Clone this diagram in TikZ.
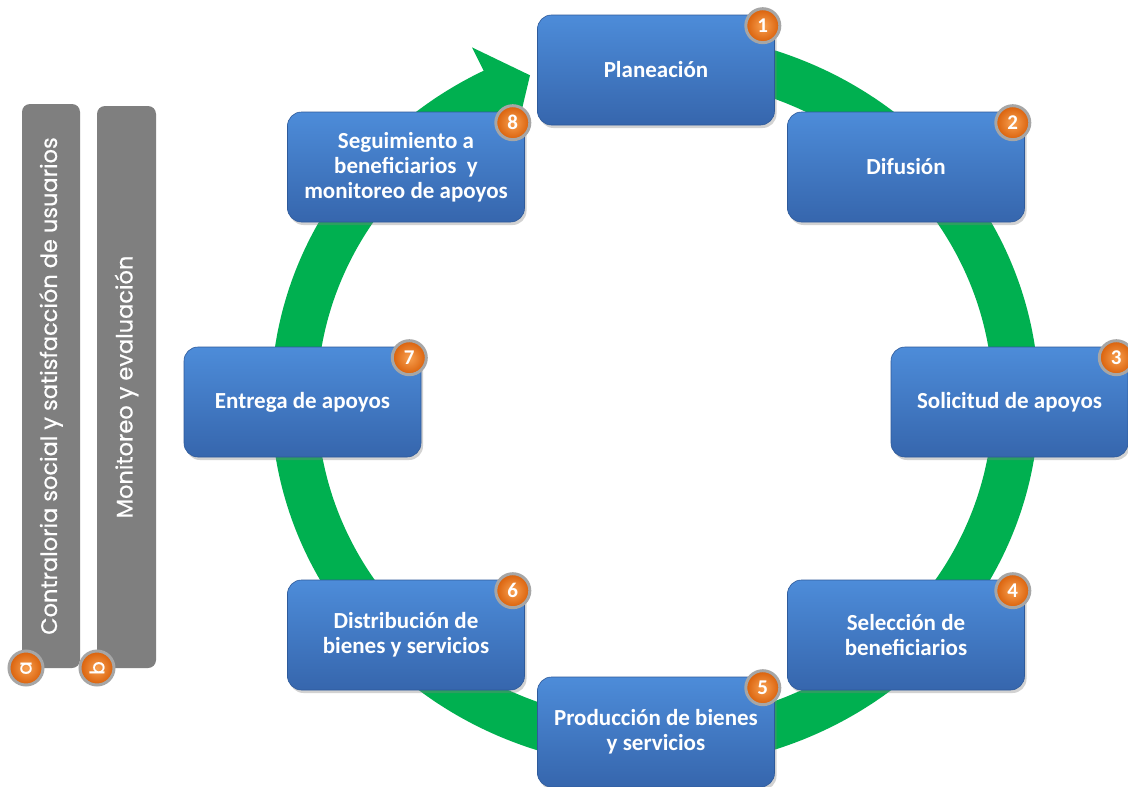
\documentclass[tikz,border=0pt]{standalone}
\usepackage{fontspec}
\setmainfont{Carlito}
\newfontfamily\barfont{Poppins}[FakeBold=0.6]
\usetikzlibrary{shadows,calc}
\definecolor{ringgreen}{HTML}{00B050}
\definecolor{boxtop}{HTML}{4D8CD9}
\definecolor{boxbot}{HTML}{3666AD}
\definecolor{boxline}{HTML}{2E5A9A}
\definecolor{bargrey}{HTML}{7F7F7F}
\definecolor{badgein}{HTML}{F8A050}
\definecolor{badgeout}{HTML}{D9600A}
\definecolor{badgering}{HTML}{A6A6A6}
\begin{document}
\begin{tikzpicture}[x=1pt,y=-1pt,
  stage/.style={rounded corners=14pt, top color=boxtop, bottom color=boxbot,
    draw=boxline, line width=0.6pt, minimum width=237pt, minimum height=110pt,
    inner sep=0pt, align=center, text=white,
    font=\fontsize{23}{25}\selectfont\bfseries,
    drop shadow={shadow xshift=2pt, shadow yshift=-3pt, opacity=0.35}},
  badge/.style={circle, inner color=badgein, outer color=badgeout,
    draw=badgering, line width=3pt, minimum size=34pt, inner sep=0pt,
    text=white, font=\fontsize{21}{21}\selectfont\bfseries},
  bar/.style={fill=bargrey, rounded corners=8pt, inner sep=0pt, text=white,
    font=\barfont\fontsize{22.5}{26}\selectfont}]
\useasboundingbox (0,0) rectangle (1128,787);
\fill[white] (0,0) rectangle (1128,787);

% ring arrow
\draw[ringgreen, line width=46pt] plot[domain=-90:244, samples=150, smooth]
  ({655+361*cos(\x)},{400+345*sin(\x)});
\fill[ringgreen] ({655+410*cos(243.5)},{400+394*sin(243.5)})
  -- ({655+362*cos(249.8)},{400+346*sin(249.8)})
  -- ({655+312*cos(243.5)},{400+296*sin(243.5)}) -- cycle;

% stages
\node[stage] (b1) at (656,70) {Planeación};
\node[stage] (b2) at (906,167) {Difusión};
\node[stage] (b3) at (1009.5,402) {Solicitud de apoyos};
\node[stage] (b4) at (906,635) {Selección de\\beneficiarios};
\node[stage] (b5) at (656,732) {Producción de bienes\\y servicios};
\node[stage] (b6) at (406,635) {Distribución de\\bienes y servicios};
\node[stage] (b7) at (302.5,402) {Entrega de apoyos};
\node[stage] (b8) at (406,167) {Seguimiento a\\beneficiarios~ y\\monitoreo de apoyos};

% badges
\foreach \i in {1,...,8}{
  \node[badge] (n\i) at ($(b\i.north east)+(-12,11)$) {\i};
}

% side bars
\node[bar, rotate=90, minimum width=564pt, minimum height=58pt] (ba) at (51,386)
  {Contraloria social y satisfacción de usuarios};
\node[bar, rotate=90, minimum width=562pt, minimum height=59pt] (bb) at (126.5,387)
  {Monitoreo y evaluación};
\node[badge, rotate=90, font=\barfont\fontsize{20}{20}\selectfont] (na) at (26,668) {a};
\node[badge, rotate=90, font=\barfont\fontsize{20}{20}\selectfont] (nb) at (97,668) {b};
\end{tikzpicture}
\end{document}
